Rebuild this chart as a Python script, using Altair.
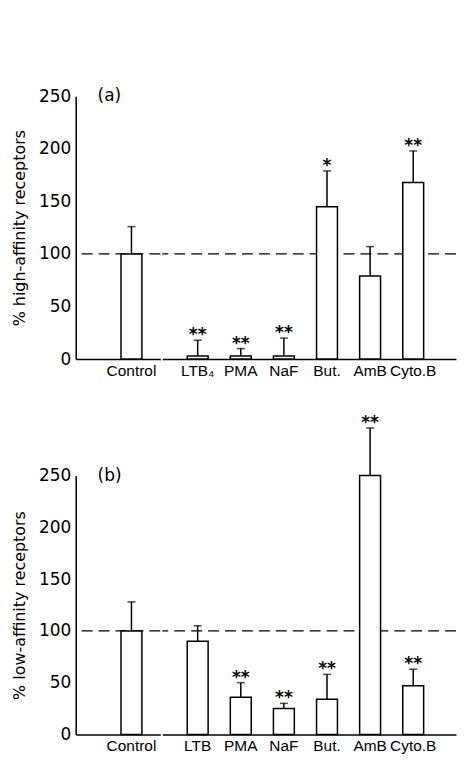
import altair as alt
import pandas as pd

# ---- data ----
treatments_a = ["Control", "LTB₄", "PMA", "NaF", "But.", "AmB", "Cyto.B"]
high_mean = [100, 3, 3, 3, 145, 79, 168]
high_sem = [26, 15, 7, 17, 34, 28, 30]
high_sig = ["", "**", "**", "**", "*", "", "**"]

treatments_b = ["Control", "LTB", "PMA", "NaF", "But.", "AmB", "Cyto.B"]
low_mean = [100, 90, 36, 25, 34, 250, 47]
low_sem = [28, 15, 14, 5, 24, 46, 16]
low_sig = ["", "", "**", "**", "**", "**", "**"]

y_ticks = [0, 50, 100, 150, 200, 250]
control_level = 100

FONT = "DejaVu Sans"
XFONT = "Liberation Sans"
W_CTRL, W_TRT = 85, 295


def sub(cats, mean, sem, sig, width, h, xscale, yaxis, tag=None):
    df = pd.DataFrame({
        "t": cats,
        "mean": mean,
        "upper": [m + s for m, s in zip(mean, sem)],
        "sig": sig,
    })
    xaxis = alt.Axis(title=None, labelAngle=0, ticks=False, labelFontSize=15.5,
                     labelFont=XFONT, labelColor="black", labelPadding=4,
                     domainColor="black", domainWidth=1.5)
    x = alt.X("t:N", sort=cats, scale=xscale, axis=xaxis)
    y = alt.Y("mean:Q", scale=alt.Scale(domain=[0, 250], nice=False), axis=yaxis)
    base = alt.Chart(df)
    one = base.transform_filter(alt.datum.t == cats[0])
    dash = one.mark_rule(strokeDash=[11, 6], color="black", strokeWidth=1.2).encode(
        y=alt.datum(control_level))
    bars = base.mark_bar(fill="white", stroke="black", strokeWidth=1.5).encode(x=x, y=y)
    err = base.mark_rule(color="black", strokeWidth=1.5).encode(
        x=alt.X("t:N", sort=cats), y="mean:Q", y2="upper:Q")
    cap = base.mark_tick(color="black", thickness=1.5, size=8, orient="horizontal").encode(
        x=alt.X("t:N", sort=cats), y="upper:Q")
    stars = base.mark_text(font=FONT, fontSize=17, fontWeight="bold", baseline="alphabetic",
                           color="black").encode(
        x=alt.X("t:N", sort=cats), y="upper:Q", text="sig:N")
    layers = [dash, bars, err, cap, stars]
    if tag:
        label = one.mark_text(text=tag, align="left", baseline="middle", font=FONT,
                              fontSize=17, color="black").encode(
            x=alt.value(22), y=alt.datum(250))
        layers.append(label)
    return alt.layer(*layers).properties(width=width, height=h)


def panel(cats, mean, sem, sig, ytitle, tag, h):
    yaxis = alt.Axis(values=y_ticks, title=ytitle, grid=False, ticks=False,
                     labelFontSize=17, labelFont=FONT, labelColor="black",
                     labelPadding=5, titleFont=FONT, titleFontSize=16,
                     titleFontWeight="normal", titleColor="black",
                     titlePadding=11, domainColor="black", domainWidth=1.5)
    hidden = alt.Axis(title=None, labels=False, ticks=False, domain=False, grid=False,
                      labelPadding=0, minExtent=0, maxExtent=0)
    ctrl = sub(cats[:1], mean[:1], sem[:1], sig[:1], W_CTRL, h,
               alt.Scale(paddingInner=0.344, paddingOuter=1, align=0.711),
               yaxis, tag)
    trt = sub(cats[1:], mean[1:], sem[1:], sig[1:], W_TRT, h,
              alt.Scale(paddingInner=0.515, paddingOuter=0.664, align=0.435),
              hidden)
    return alt.hconcat(ctrl, trt, spacing=0)


top = panel(treatments_a, high_mean, high_sem, high_sig,
            "% high-affinity receptors", "(a)", 264)
bottom = panel(treatments_b, low_mean, low_sem, low_sig,
               "% low-affinity receptors", "(b)", 260)

chart = alt.vconcat(top, bottom, spacing=35).properties(
    padding={"left": 3, "top": 78, "right": 0, "bottom": 0},
    background="white",
).configure_view(stroke=None)

chart.save("out.html", embed_options={"renderer": "svg", "actions": False})
